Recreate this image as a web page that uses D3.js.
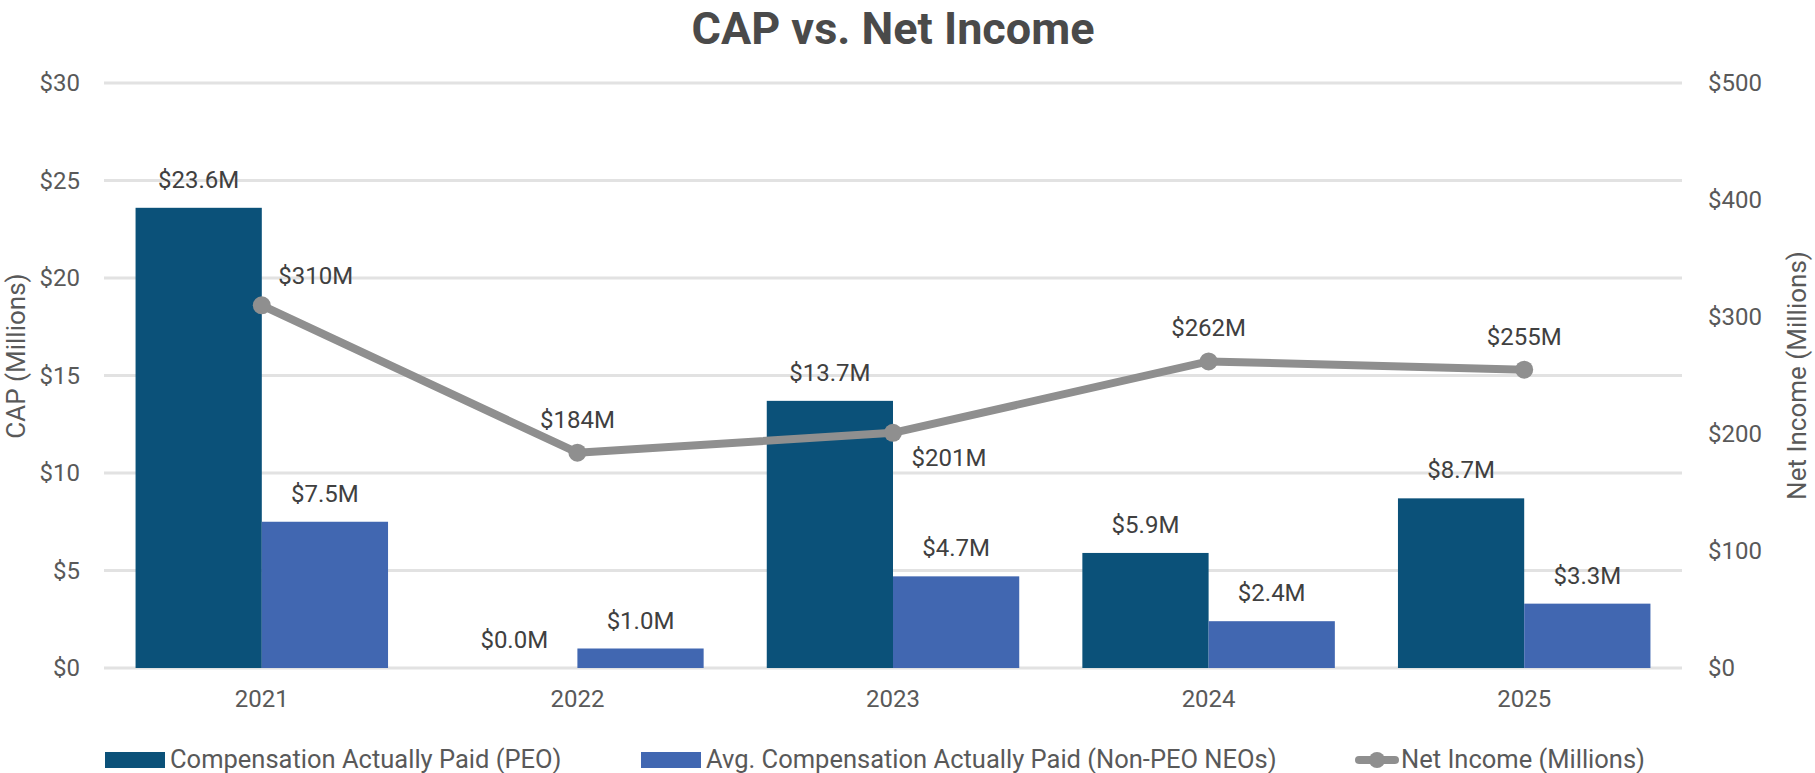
<!DOCTYPE html>
<html><head><meta charset="utf-8">
<script src="https://cdn.jsdelivr.net/npm/d3@7"></script>
<style>body{margin:0;background:#fff;} text{font-family:Roboto,"Open Sans",sans-serif;}</style>
</head><body><svg id="c" width="1815" height="773"></svg>
<script>
const years = ["2021","2022","2023","2024","2025"];
const capPEO = [23.6, 0.0, 13.7, 5.9, 8.7];
const capNEO = [7.5, 1.0, 4.7, 2.4, 3.3];
const netIncome = [310, 184, 201, 262, 255];
const leftTicks = [0,5,10,15,20,25,30];
const rightTicks = [0,100,200,300,400,500];
const seriesNames = ["Compensation Actually Paid (PEO)","Avg. Compensation Actually Paid (Non-PEO NEOs)","Net Income (Millions)"];
const niLabelPos = ["right","above","rightBelow","above","above"];

const C_PEO="#0b5179", C_NEO="#4167b1", C_LINE="#8f8f8f", C_TXT="#595959", C_LBL="#404040";
const svg=d3.select("#c");
const L=104,R=1682,T=83,B=668;
const x0=d3.scaleBand().domain(years).range([L,R]).padding(0);
const x1=d3.scaleBand().domain(["peo","neo"]).range([x0.bandwidth()*0.1,x0.bandwidth()*0.9]);
const yL=d3.scaleLinear().domain([0,30]).range([B,T]);
const yR=d3.scaleLinear().domain([0,500]).range([B,T]);

svg.append("text").attr("x",(L+R)/2).attr("y",44).attr("text-anchor","middle")
 .style("font-size","45px").style("font-weight","bold").attr("fill","#4a4a4a").text("CAP vs. Net Income");

// grid
svg.append("g").selectAll("line").data(leftTicks).join("line")
 .attr("x1",L).attr("x2",R).attr("y1",d=>yL(d)).attr("y2",d=>yL(d))
 .attr("stroke","#e2e2e2").attr("stroke-width",3);

// axes
const gl=svg.append("g").attr("transform",`translate(${L},0)`)
 .call(d3.axisLeft(yL).tickValues(leftTicks).tickFormat(d=>"$"+d).tickSize(0).tickPadding(24));
gl.select(".domain").remove();
gl.selectAll("text").style("font-size","24px").attr("fill",C_TXT);
const gr=svg.append("g").attr("transform",`translate(${R},0)`)
 .call(d3.axisRight(yR).tickValues(rightTicks).tickFormat(d=>"$"+d).tickSize(0).tickPadding(26));
gr.select(".domain").remove();
gr.selectAll("text").style("font-size","24px").attr("fill",C_TXT);
const gx=svg.append("g").attr("transform",`translate(0,${B})`)
 .call(d3.axisBottom(x0).tickSize(0).tickPadding(22));
gx.select(".domain").remove();
gx.selectAll("text").style("font-size","24px").attr("fill",C_TXT);

svg.append("text").attr("transform",`translate(25,356) rotate(-90)`).attr("text-anchor","middle")
 .style("font-size","26px").attr("fill",C_TXT).text("CAP (Millions)");
svg.append("text").attr("transform",`translate(1806,${(T+B)/2}) rotate(-90)`).attr("text-anchor","middle")
 .style("font-size","26px").attr("fill",C_TXT).text("Net Income (Millions)");

// bars
const rows=years.map((y,i)=>({y,peo:capPEO[i],neo:capNEO[i],ni:netIncome[i],pos:niLabelPos[i]}));
const g=svg.append("g").selectAll("g").data(rows).join("g").attr("transform",d=>`translate(${x0(d.y)},0)`);
const parts=d=>[{k:"peo",v:d.peo,c:C_PEO},{k:"neo",v:d.neo,c:C_NEO}];
g.selectAll("rect").data(parts).join("rect")
 .attr("x",d=>x1(d.k)).attr("width",x1.bandwidth()).attr("y",d=>yL(d.v)).attr("height",d=>B-yL(d.v)).attr("fill",d=>d.c);
g.selectAll("text.bl").data(parts).join("text").attr("class","bl")
 .attr("x",d=>x1(d.k)+x1.bandwidth()/2).attr("y",d=>yL(d.v)-20).attr("text-anchor","middle")
 .style("font-size","24px").attr("fill",C_LBL).text(d=>"$"+d.v.toFixed(1)+"M");

// line
const cx=d=>x0(d.y)+x0.bandwidth()/2;
svg.append("path").datum(rows).attr("fill","none").attr("stroke",C_LINE).attr("stroke-width",8)
 .attr("stroke-linejoin","round").attr("d",d3.line().x(cx).y(d=>yR(d.ni)));
svg.append("g").selectAll("circle").data(rows).join("circle").attr("cx",cx).attr("cy",d=>yR(d.ni)).attr("r",9).attr("fill",C_LINE);
const off={right:[54,-21],above:[0,-25],rightBelow:[56,33]};
svg.append("g").selectAll("text").data(rows).join("text")
 .attr("x",d=>cx(d)+off[d.pos][0]).attr("y",d=>yR(d.ni)+off[d.pos][1]).attr("text-anchor","middle")
 .style("font-size","24px").attr("fill",C_LBL).text(d=>"$"+d.ni+"M");

// legend
const lg=svg.append("g");
lg.append("rect").attr("x",105).attr("y",752).attr("width",60).attr("height",16).attr("fill",C_PEO);
lg.append("rect").attr("x",641).attr("y",752).attr("width",60).attr("height",16).attr("fill",C_NEO);
lg.append("line").attr("x1",1359).attr("x2",1395).attr("y1",760).attr("y2",760).attr("stroke",C_LINE).attr("stroke-width",8).attr("stroke-linecap","round");
lg.append("circle").attr("cx",1377).attr("cy",760).attr("r",8).attr("fill",C_LINE);
lg.selectAll("text").data(seriesNames).join("text")
 .attr("x",(d,i)=>[170,706,1401][i]).attr("y",768).style("font-size","25.5px").attr("fill",C_TXT).text(d=>d);
</script></body></html>
